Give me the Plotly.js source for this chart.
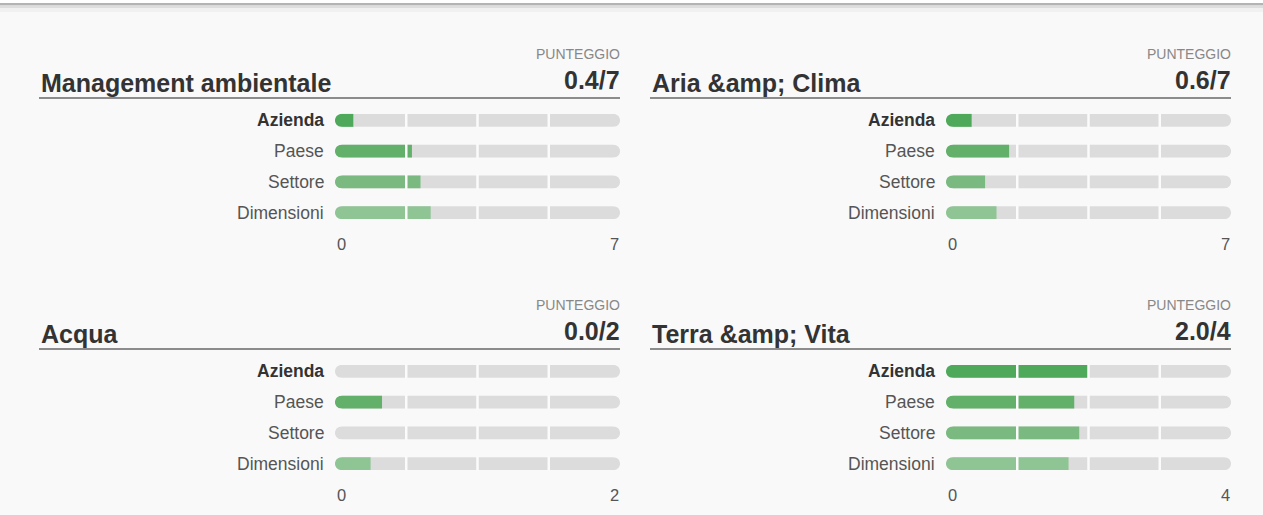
<!DOCTYPE html>
<html>
<head>
<meta charset="utf-8">
<script src="https://cdn.plot.ly/plotly-3.0.1.min.js"></script>
<style>
html,body{margin:0;padding:0;background:#f9f9f9;}
#chart{width:1263px;height:515px;}
</style>
</head>
<body>
<div id="chart"></div>
<script>
// ---- data ----
const categories = ['Azienda', 'Paese', 'Settore', 'Dimensioni'];
const panelTitles = ['Management ambientale', 'Aria &amp; Clima', 'Acqua', 'Terra &amp; Vita'];
const scoreLabel = 'PUNTEGGIO';
const scores = [0.4, 0.6, 0.0, 2.0];
const maxScores = [7, 7, 2, 4];
const managementValues = [0.45, 1.89, 2.10, 2.35];
const ariaClimaValues = [0.63, 1.55, 0.96, 1.24];
const acquaValues = [0, 0.33, 0, 0.25];
const terraVitaValues = [2.0, 1.80, 1.87, 1.72];
const panelValues = [managementValues, ariaClimaValues, acquaValues, terraVitaValues];

// ---- style / geometry ----
const W = 1263, H = 515;
const FONT = '"Liberation Sans", Arial, sans-serif';
const BG = '#f9f9f9';
const barColors = ['#4fa95a', '#62b06a', '#7aba80', '#8fc594'];
const trackColor = '#dcdcdc';
const BAR_W = 0.42;
const px = v => v / W;
const py = v => 1 - v / H;
const esc = s => s.replace(/&/g, '&amp;');

const geo = [
  {left: 40,  trackL: 335, right: 620,  top: 0},
  {left: 651, trackL: 946, right: 1231, top: 0},
  {left: 40,  trackL: 335, right: 620,  top: 251},
  {left: 651, trackL: 946, right: 1231, top: 251}
];

// corner mask (pixel path) that turns a square bar end into a round cap
function capMask(r, side) {
  const s = side === 'left' ? 1 : -1;
  const pts = [[-1, -r - 1.5], [r, -r - 1.5], [r, -r]];
  for (let k = 1; k < 20; k++) {
    const th = -Math.PI / 2 - Math.PI * k / 20;
    pts.push([r + r * Math.cos(th), r * Math.sin(th)]);
  }
  pts.push([r, r], [r, r + 1.5], [-1, r + 1.5]);
  return 'M' + pts.map(p => (s * p[0]).toFixed(2) + ',' + p[1].toFixed(2)).join('L') + 'Z';
}

const data = [];
const layout = {
  width: W, height: H,
  margin: {l: 0, r: 0, t: 0, b: 0},
  paper_bgcolor: BG,
  plot_bgcolor: 'rgba(0,0,0,0)',
  barmode: 'overlay',
  showlegend: false,
  font: {family: FONT, color: '#444'},
  annotations: [],
  shapes: []
};

layout.shapes.push(
  {type: 'rect', xref: 'paper', yref: 'paper', x0: 0, x1: 1, y0: py(3), y1: 1, fillcolor: '#ffffff', line: {width: 0}, layer: 'below'},
  {type: 'rect', xref: 'paper', yref: 'paper', x0: 0, x1: 1, y0: py(5.5), y1: py(3), fillcolor: '#b4b4b4', line: {width: 0}, layer: 'below'},
  {type: 'rect', xref: 'paper', yref: 'paper', x0: 0, x1: 1, y0: py(8), y1: py(5.5), fillcolor: '#dedede', line: {width: 0}, layer: 'below'},
  {type: 'rect', xref: 'paper', yref: 'paper', x0: 0, x1: 1, y0: py(12), y1: py(8), fillcolor: '#f1f1f1', line: {width: 0}, layer: 'below'}
);

panelValues.forEach((vals, p) => {
  const g = geo[p];
  const n = p + 1;
  const xa = 'x' + (n === 1 ? '' : n), ya = 'y' + (n === 1 ? '' : n);
  const xKey = 'xaxis' + (n === 1 ? '' : n), yKey = 'yaxis' + (n === 1 ? '' : n);
  const max = maxScores[p];
  const rowTop = 105 + g.top, rowBot = 228 + g.top;
  const rowPx = (rowBot - rowTop) / categories.length;
  const r = BAR_W * rowPx / 2;

  layout[xKey] = {
    domain: [px(g.trackL), px(g.right)], range: [0, max], anchor: ya,
    showgrid: false, zeroline: false, showticklabels: false, showline: false, fixedrange: true
  };
  layout[yKey] = {
    domain: [py(rowBot), py(rowTop)], anchor: xa, type: 'category',
    categoryorder: 'array', categoryarray: categories,
    range: [3.5, -0.5],
    showgrid: false, zeroline: false, showticklabels: false, showline: false, fixedrange: true
  };

  data.push({
    type: 'bar', orientation: 'h', xaxis: xa, yaxis: ya, opacity: 1,
    y: categories, x: categories.map(() => max),
    width: BAR_W, marker: {color: trackColor, line: {width: 0}},
    hoverinfo: 'skip'
  });
  data.push({
    type: 'bar', orientation: 'h', xaxis: xa, yaxis: ya, opacity: 1,
    y: categories, x: vals,
    width: BAR_W, marker: {color: barColors, line: {width: 0}},
    hoverinfo: 'skip'
  });

  categories.forEach((c, i) => {
    [1, 2, 3].forEach(k => {
      layout.shapes.push({
        type: 'line', xref: xa, yref: ya,
        x0: max * k / 4, x1: max * k / 4, y0: i - 0.23, y1: i + 0.23,
        line: {color: '#fbfbfb', width: 2.5}
      });
    });
    ['left', 'right'].forEach(side => {
      layout.shapes.push({
        type: 'path', xref: xa, yref: ya,
        xsizemode: 'pixel', ysizemode: 'pixel',
        xanchor: side === 'left' ? 0 : max, yanchor: i,
        path: capMask(r, side),
        fillcolor: BG, line: {width: 0}
      });
    });
    layout.annotations.push({
      xref: xa, yref: ya, x: 0, y: c, xanchor: 'right', yanchor: 'middle',
      xshift: -9, showarrow: false,
      text: i === 0 ? '<b>' + c + '</b>' : c,
      font: {size: 17.5, color: i === 0 ? '#333333' : '#555555', family: FONT}
    });
  });

  layout.annotations.push(
    {xref: xa, yref: 'paper', x: 0, y: py(244 + g.top), xanchor: 'left', yanchor: 'middle', showarrow: false,
     text: '0', font: {size: 16.5, color: '#555555', family: FONT}},
    {xref: xa, yref: 'paper', x: max, y: py(244 + g.top), xanchor: 'right', yanchor: 'middle', showarrow: false,
     xshift: 1, text: String(max), font: {size: 16.5, color: '#555555', family: FONT}}
  );

  layout.annotations.push(
    {xref: 'paper', yref: 'paper', x: px(g.left), y: py(83 + g.top), xanchor: 'left', yanchor: 'middle', showarrow: false,
     xshift: -1, text: '<b>' + esc(panelTitles[p]) + '</b>', font: {size: 25, color: '#333333', family: FONT}},
    {xref: 'paper', yref: 'paper', x: px(g.right), y: py(53.5 + g.top), xanchor: 'right', yanchor: 'middle', showarrow: false,
     xshift: 2, text: scoreLabel, font: {size: 14, color: '#888888', family: FONT}},
    {xref: 'paper', yref: 'paper', x: px(g.right), y: py(79.5 + g.top), xanchor: 'right', yanchor: 'middle', showarrow: false,
     xshift: 2, text: '<b>' + scores[p].toFixed(1) + '/' + max + '</b>', font: {size: 25, color: '#333333', family: FONT}}
  );

  layout.shapes.push({
    type: 'line', xref: 'paper', yref: 'paper',
    x0: px(g.left - 1), x1: px(g.right), y0: py(98 + g.top), y1: py(98 + g.top),
    line: {color: '#8c8c8c', width: 2}
  });
});

Plotly.newPlot('chart', data, layout, {displayModeBar: false, staticPlot: true});
</script>
</body>
</html>
